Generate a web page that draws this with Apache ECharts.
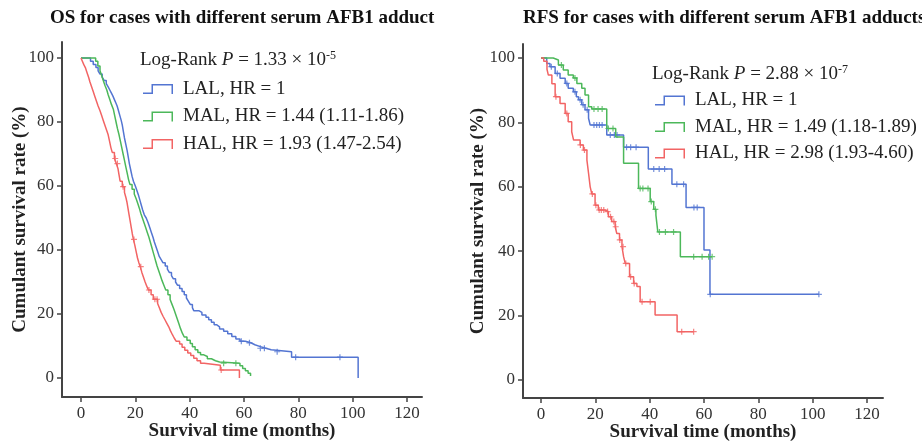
<!DOCTYPE html>
<html><head><meta charset="utf-8">
<script src="https://cdn.jsdelivr.net/npm/echarts@6/dist/echarts.min.js"></script>
<style>html,body{margin:0;padding:0;background:#fff}#c{width:922px;height:441px}</style>
</head><body><div id="c"></div>
<script>
const xTicks=[0,20,40,60,80,100,120];
const yTicks=[0,20,40,60,80,100];

// OS (left) Kaplan-Meier step points [month, survival %]
const osLAL=[[0,100],[3.5,99],[4.5,98],[5.5,97],[6.3,96],[7,95],[7.8,94],[8.5,93],[9.3,92],[10,91],[10.6,90],[11.2,89],[11.8,88],[12.3,87],[12.8,86],[13.3,85],[13.8,83.5],[14.3,82],[14.8,80.5],[15.2,79],[15.6,77],[16,75],[16.5,73],[17,71],[17.4,69],[17.8,67],[18.3,65],[18.8,63],[19.3,61.5],[20,60],[20.6,58.5],[21.2,57],[21.7,55.5],[22.2,54],[22.7,52.5],[23.3,51],[24,50],[24.7,48.5],[25.3,47],[25.9,45.5],[26.5,44],[27,42.5],[27.6,41],[28.2,39.5],[28.8,38],[29.5,37],[30.2,36],[31,35],[31.8,34],[32.5,33],[33.3,32],[34,31],[34.8,30],[35.5,29],[36.3,28],[37.2,27],[38,26],[38.8,25],[39.5,24],[40.2,23],[41,22],[41.5,21],[43.5,20.5],[44.5,19.7],[46,19],[47,18.2],[48,17.4],[49,16.6],[50,16],[51,15.3],[52.5,14.6],[54,13.8],[55.5,13],[57,12.2],[58.5,11.5],[60.5,11],[62.5,10.4],[64,9.8],[66,9.3],[68,8.8],[70,8.2],[77.5,6.5],[102,0]];
const osMAL=[[0,100],[5.4,99],[6.2,97.5],[7,96],[7.6,94.5],[8.2,93],[8.8,91.5],[9.5,90],[10,88.5],[10.6,87],[11.2,85.5],[11.9,84],[12.4,82],[12.9,80],[13.4,78],[14,76],[14.5,74],[15,72],[15.5,70],[16,68],[16.5,66],[17,64],[17.5,62],[18,60.5],[18.8,59],[19.6,57.5],[20.3,56],[20.9,54.5],[21.5,53],[22,51.5],[22.6,50],[23.2,48.5],[23.8,47],[24.4,45.5],[25,44],[25.5,42.5],[26,41],[26.5,39.5],[27,38],[27.5,36.5],[28,35],[28.6,33.5],[29.2,32],[29.8,30.5],[30.5,29],[31.2,27.5],[32,26],[32.8,24.5],[33.5,23],[34.2,21.5],[34.8,20],[35.4,18.5],[36,17],[36.6,15.5],[37.3,14],[38,12.8],[39,11.8],[40.2,10.8],[41,9.8],[42,8.8],[43,8],[44,7.3],[45,6.7],[46.5,6],[48,5.4],[49.5,5],[51,4.6],[58.5,3.8],[59.5,3],[60.5,2.3],[61.5,1.5],[62.4,0.6]];
const osHAL=[[0,100],[0.5,99],[1,98],[1.6,97],[2.2,95.5],[2.8,94],[3.3,92.5],[3.9,91],[4.5,89.5],[5.1,88],[5.7,86.5],[6.3,85],[7,83.5],[7.6,82],[8.2,80.5],[8.8,79],[9.4,77.5],[10,76],[10.5,74],[11,72],[11.5,70.5],[12.3,68.6],[13,67],[13.6,65.5],[14,63.5],[14.4,61.5],[15.2,59.8],[16,58],[16.5,56.5],[16.9,55],[17.3,53],[17.7,51],[18.1,49],[18.5,47],[18.9,45],[19.3,43.3],[19.8,41.5],[20.3,39.5],[20.8,37.5],[21.3,36],[21.8,34.8],[22.4,33],[23,31.5],[23.6,30],[24.2,28.7],[24.8,27.5],[25.8,26],[26.6,24.6],[28.2,23.3],[28.8,22],[29.5,20.5],[30.2,19.3],[30.9,18.2],[31.6,17.1],[32.3,16],[32.9,14.8],[33.6,13.6],[34.3,12.5],[35,11.5],[36.3,10.6],[37.2,9.6],[38.2,8.7],[39.3,7.8],[40.4,7],[41.5,6.2],[42.7,5.4],[44,4.6],[45.3,4],[51.3,2.5],[58.3,0]];
const osCensLAL=[59,62,66,67.5,72.2,79,95.3];
const osCensMAL=[52.5,57];
const osCensHAL=[12.6,13.4,15.5,19.5,22,25,27.2,28,51.6];

// RFS (right)
const rfsLAL=[[0,100],[2.1,98.3],[3.3,97.3],[5.2,95.2],[7,93.7],[8.9,92.1],[10,90.6],[11.9,89.5],[13,88],[13.8,87],[15,85.5],[16.2,83.9],[17.5,81.3],[18.1,79.2],[24.2,76.1],[30.4,72.3],[39.5,65.5],[48.2,60.8],[53.4,53.6],[60,40.4],[62.2,26.6],[102.3,26.6]];
const rfsMAL=[[0,100],[4.5,99.4],[6.4,97.8],[8.2,96.3],[10,94.7],[11.9,93.8],[13.2,92.1],[15,90.6],[16.2,88.5],[17.5,84.9],[18.7,84.2],[24.2,78.1],[27.5,75.5],[30.4,67.3],[35.9,59.5],[40.2,55.4],[41.5,53],[42.3,51.2],[43,46],[51.3,38.3],[63,38.3]];
const rfsHAL=[[0,100],[1,99],[2.2,96.5],[2.7,94.7],[4,92],[5.2,88],[7,85.9],[8.9,82.8],[10,80.2],[11.3,77.1],[12,74.5],[14.4,73],[15.6,71.4],[16.9,68.3],[17.5,64.2],[18.1,60],[18.7,57.8],[19.9,54.3],[21.1,52.8],[23.6,52.3],[24.8,50.7],[26,49.2],[27.3,47.6],[27.9,45.5],[28.9,43.5],[29.8,41.4],[30.4,38.3],[31,36.2],[32.6,32.1],[34.1,30],[35.3,29],[36.5,24.3],[42,20.2],[50.1,15],[56.2,15]];
const rfsCensLAL=[3.8,6,9.5,12.5,14.4,15.5,17,19.5,20.5,21.5,22.5,25.5,27,28,31.5,33,35,41.5,43.5,45.5,50,52.5,56.3,57.5,62.3,102.3];
const rfsCensMAL=[7.5,12.5,19.5,21,22.5,24.8,26.5,36.5,37.5,39.4,40.6,42.1,43.6,45.8,48.8,56.2,59.3,61.7,63];
const rfsCensHAL=[5.5,9.5,14.5,16,18.9,20.2,21.4,22.2,23.1,24.5,25.6,26.8,27.5,29,30.2,31.2,33,34.3,37.2,40.2,51.8,56.2];

const osNames=['LAL, HR = 1','MAL, HR = 1.44 (1.11-1.86)','HAL, HR = 1.93 (1.47-2.54)'];
const rfsNames=['LAL, HR = 1 ','MAL, HR = 1.49 (1.18-1.89)','HAL, HR = 2.98 (1.93-4.60)'];
const osTitle='OS for cases with different serum AFB1 adduct';
const rfsTitle='RFS for cases with different serum AFB1 adducts';

const COL=['#5375d2','#4cb85a','#f26464'];
const serif='"Liberation Serif","Times New Roman",serif';
const stepIcon='path://M0,8.5H8.5V0H30V10H28.5V1.5H10V10H0Z';
const plusSym='path://M4,0h2v4h4v2h-4v4h-2v-4h-4v-2h4z';

function stepAt(d,t){let v=d[0][1];for(const p of d){if(p[0]<=t)v=p[1];else break;}return v;}
function cens(d,ts){return ts.map(t=>[t,stepAt(d,t)]);}

function xAx(gi,min,max){return {type:'value',gridIndex:gi,min:min,max:max,
  axisLine:{onZero:false,lineStyle:{color:'#444',width:2}},
  axisTick:{show:true,customValues:xTicks,length:5,lineStyle:{color:'#444',width:1.5}},
  axisLabel:{customValues:xTicks,margin:8,fontFamily:serif,fontSize:17,color:'#333'},
  splitLine:{show:false},
  name:'Survival time (months)',nameLocation:'middle',nameGap:25,nameMoveOverlap:false,
  nameTextStyle:{fontFamily:serif,fontWeight:'bold',fontSize:19,color:'#222'}};}
function yAx(gi,min,max,gap){return {type:'value',gridIndex:gi,min:min,max:max,
  axisLine:{show:true,onZero:false,lineStyle:{color:'#444',width:2}},
  axisTick:{show:true,customValues:yTicks,length:5,lineStyle:{color:'#444',width:1.5}},
  axisLabel:{customValues:yTicks,margin:8,fontFamily:serif,fontSize:17,color:'#333'},
  splitLine:{show:false},
  name:'Cumulant survival rate (%)',nameLocation:'middle',nameGap:gap,nameMoveOverlap:false,
  nameTextStyle:{fontFamily:serif,fontWeight:'bold',fontSize:19,color:'#222'}};}

function lineS(name,data,gi,c){return {type:'line',name:name,data:data,step:'end',xAxisIndex:gi,yAxisIndex:gi,
  showSymbol:false,color:c,lineStyle:{color:c,width:1.5},itemStyle:{color:c},animation:false,silent:true};}
function censS(data,gi,c){return {type:'scatter',data:data,xAxisIndex:gi,yAxisIndex:gi,symbol:plusSym,symbolSize:6,
  itemStyle:{color:c},animation:false,silent:true};}

function legendCfg(names,left,top,gap){return {data:names,left:left,top:top,orient:'vertical',padding:0,itemWidth:30,itemHeight:10,
  itemGap:gap,icon:stepIcon,selectedMode:false,textStyle:{fontFamily:serif,fontSize:19,color:'#222',padding:[0,0,0,5],lineHeight:21}};}

function logRank(left,top,p,e){return {type:'text',left:left,top:top,style:{
  text:'{a|Log-Rank }{i|P}{a| = '+p+' × 10}{s|'+e+'}',
  rich:{a:{fontFamily:serif,fontSize:19,fill:'#222',lineHeight:21},
        i:{fontFamily:serif,fontSize:19,fontStyle:'italic',fill:'#222',lineHeight:21},
        s:{fontFamily:serif,fontSize:12,fill:'#222',verticalAlign:'top',lineHeight:21}}}};}

const chart=echarts.init(document.getElementById('c'),null,{renderer:'canvas'});
chart.setOption({
  backgroundColor:'#fff',animation:false,
  title:[
    {text:osTitle,left:50,top:9,padding:0,textStyle:{fontFamily:serif,fontWeight:'bold',fontSize:19,color:'#111'}},
    {text:rfsTitle,left:523,top:9,padding:0,textStyle:{fontFamily:serif,fontWeight:'bold',fontSize:19,color:'#111'}}
  ],
  grid:[{left:62,top:42,width:360,height:355,outerBoundsMode:'none',containLabel:false},
        {left:523,top:44,width:360,height:354,outerBoundsMode:'none',containLabel:false}],
  xAxis:[xAx(0,-6.99,125.5),xAx(1,-6.63,125.9)],
  yAxis:[yAx(0,-5.94,105,32),yAx(1,-5.59,104.35,35)],
  legend:[legendCfg(osNames,143,78.5,6.5),legendCfg(rfsNames,655,90,5.5)],
  graphic:[logRank(140,49.5,'1.33','-5'),logRank(652,63.5,'2.88','-7')],
  series:[
    lineS(osNames[0],osLAL,0,COL[0]),lineS(osNames[1],osMAL,0,COL[1]),lineS(osNames[2],osHAL,0,COL[2]),
    censS(cens(osLAL,osCensLAL),0,COL[0]),censS(cens(osMAL,osCensMAL),0,COL[1]),censS(cens(osHAL,osCensHAL),0,COL[2]),
    lineS(rfsNames[0],rfsLAL,1,COL[0]),lineS(rfsNames[1],rfsMAL,1,COL[1]),lineS(rfsNames[2],rfsHAL,1,COL[2]),
    censS(cens(rfsLAL,rfsCensLAL),1,COL[0]),censS(cens(rfsMAL,rfsCensMAL),1,COL[1]),censS(cens(rfsHAL,rfsCensHAL),1,COL[2])
  ]
});
</script></body></html>
